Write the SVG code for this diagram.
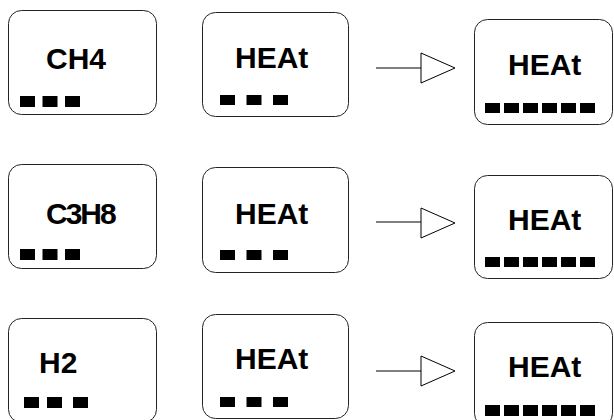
<svg xmlns="http://www.w3.org/2000/svg" width="614" height="420" viewBox="0 0 614 420">
<style>
.box{fill:#fff;stroke:#222;stroke-width:1}
.lbl{font-family:"Liberation Sans",Arial,sans-serif;font-weight:bold;font-size:30px;fill:#000}
.sq{fill:#000}
.ln{stroke:#000;stroke-width:1;fill:none}
.tri{fill:#fff;stroke:#000;stroke-width:1}
</style>
<rect width="614" height="420" fill="#fff"/>
<g id="connectors">
<line class="ln" x1="376" y1="68" x2="421" y2="68"/>
<polygon class="tri" points="421,53 421,83 455,68"/>
<line class="ln" x1="376" y1="222" x2="421" y2="222"/>
<polygon class="tri" points="421,208 421,238 455,223"/>
<line class="ln" x1="376" y1="371" x2="421" y2="371"/>
<polygon class="tri" points="421,356 421,386 455,371"/>
</g>
<g id="ch4">
<rect class="box" x="8.5" y="10.5" width="148" height="104" rx="13"/>
<text class="lbl" x="46" y="69">CH4</text>
<rect class="sq" x="20" y="96" width="15" height="11"/><rect class="sq" x="42.5" y="96" width="15" height="11"/><rect class="sq" x="65" y="96" width="15" height="11"/>
</g>
<g id="heat1">
<rect class="box" x="202.5" y="12.5" width="146" height="104" rx="13"/>
<text class="lbl" x="235" y="68">HEAt</text>
<rect class="sq" x="220" y="95" width="15" height="10"/><rect class="sq" x="246.5" y="95" width="15" height="10"/><rect class="sq" x="273" y="95" width="15" height="10"/>
</g>
<g id="heat1out">
<rect class="box" x="474.5" y="19.5" width="138" height="105" rx="13"/>
<text class="lbl" x="508" y="75">HEAt</text>
<rect class="sq" x="485" y="103" width="15" height="10"/><rect class="sq" x="504" y="103" width="15" height="10"/><rect class="sq" x="523" y="103" width="15" height="10"/><rect class="sq" x="542" y="103" width="15" height="10"/><rect class="sq" x="561" y="103" width="15" height="10"/><rect class="sq" x="580" y="103" width="15" height="10"/>
</g>
<g id="c3h8">
<rect class="box" x="8.5" y="164.5" width="148" height="104" rx="13"/>
<text class="lbl" x="46" y="224" letter-spacing="-2">C3H8</text>
<rect class="sq" x="20" y="249" width="15" height="11"/><rect class="sq" x="42.5" y="249" width="15" height="11"/><rect class="sq" x="65" y="249" width="15" height="11"/>
</g>
<g id="heat2">
<rect class="box" x="202.5" y="167.5" width="146" height="105" rx="13"/>
<text class="lbl" x="235" y="224">HEAt</text>
<rect class="sq" x="220" y="250" width="15" height="10"/><rect class="sq" x="246.5" y="250" width="15" height="10"/><rect class="sq" x="273" y="250" width="15" height="10"/>
</g>
<g id="heat2out">
<rect class="box" x="474.5" y="175.5" width="138" height="103" rx="13"/>
<text class="lbl" x="508" y="230">HEAt</text>
<rect class="sq" x="485" y="257" width="15" height="10"/><rect class="sq" x="504" y="257" width="15" height="10"/><rect class="sq" x="523" y="257" width="15" height="10"/><rect class="sq" x="542" y="257" width="15" height="10"/><rect class="sq" x="561" y="257" width="15" height="10"/><rect class="sq" x="580" y="257" width="15" height="10"/>
</g>
<g id="h2">
<rect class="box" x="8.5" y="318.5" width="148" height="104" rx="13"/>
<text class="lbl" x="39" y="373">H2</text>
<rect class="sq" x="24" y="397" width="15" height="11"/><rect class="sq" x="47" y="397" width="15" height="11"/><rect class="sq" x="73" y="397" width="15" height="11"/>
</g>
<g id="heat3">
<rect class="box" x="202.5" y="314.5" width="146" height="104" rx="13"/>
<text class="lbl" x="235" y="369">HEAt</text>
<rect class="sq" x="220" y="397" width="15" height="10"/><rect class="sq" x="246.5" y="397" width="15" height="10"/><rect class="sq" x="273" y="397" width="15" height="10"/>
</g>
<g id="heat3out">
<rect class="box" x="474.5" y="322.5" width="138" height="104" rx="13"/>
<text class="lbl" x="508" y="377">HEAt</text>
<rect class="sq" x="485" y="405" width="15" height="11"/><rect class="sq" x="504" y="405" width="15" height="11"/><rect class="sq" x="523" y="405" width="15" height="11"/><rect class="sq" x="542" y="405" width="15" height="11"/><rect class="sq" x="561" y="405" width="15" height="11"/><rect class="sq" x="580" y="405" width="15" height="11"/>
</g>
</svg>
